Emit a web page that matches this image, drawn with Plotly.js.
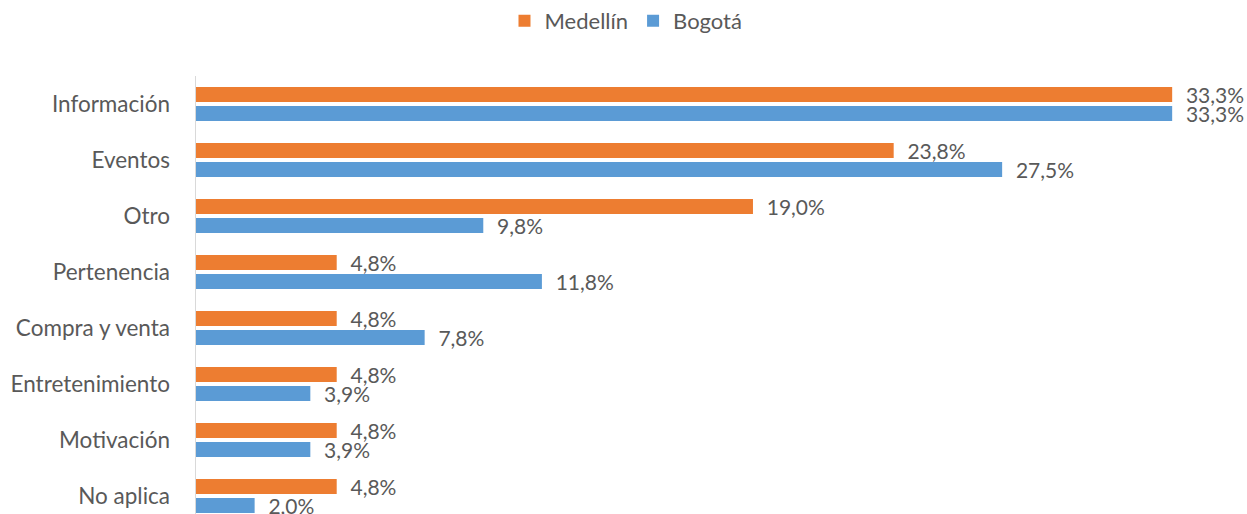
<!DOCTYPE html>
<html>
<head>
<meta charset="utf-8">
<script src="https://cdn.plot.ly/plotly-3.0.1.min.js"></script>
<style>html,body{margin:0;padding:0;background:#fff}#chart{width:1247px;height:514px}</style>
</head>
<body>
<div id="chart"></div>
<script>
var categories = ["Información", "Eventos", "Otro", "Pertenencia", "Compra y venta", "Entretenimiento", "Motivación", "No aplica"];
var medellin = [33.3, 23.8, 19.0, 4.8, 4.8, 4.8, 4.8, 4.8];
var bogota = [33.3, 27.5, 9.8, 11.8, 7.8, 3.9, 3.9, 2.0];
var seriesNames = ["Medellín", "Bogotá"];

var fontFam = "Lato, 'Open Sans', sans-serif";
var txtColor = "#595959";

function mk(name, vals, color) {
  return {
    type: "bar", orientation: "h", name: name,
    y: categories, x: vals,
    marker: {color: color},
    texttemplate: "\u00a0\u00a0%{x:.1f}%",
    textposition: "outside",
    constraintext: "none",
    cliponaxis: false,
    textfont: {family: fontFam, size: 21, color: txtColor},
    hoverinfo: "skip"
  };
}

var data = [mk(seriesNames[0], medellin, "#ED7D31"), mk(seriesNames[1], bogota, "#5B9BD5")];

var layout = {
  width: 1247, height: 514,
  margin: {l: 196, r: 25, t: 76, b: 0},
  paper_bgcolor: "#fff", plot_bgcolor: "#fff",
  separators: ",.",
  barmode: "group",
  bargap: 0.32,
  bargroupgap: 0.21,
  font: {family: fontFam, size: 22, color: txtColor},
  showlegend: true,
  legend: {orientation: "h", xref: "container", x: 0.502, xanchor: "center", yref: "container", y: 1.0, yanchor: "top",
           itemwidth: 30,
           font: {family: fontFam, size: 22, color: txtColor}, traceorder: "normal"},
  xaxis: {range: [0, 35], showgrid: false, zeroline: false, showticklabels: false, showline: false, fixedrange: true},
  yaxis: {type: "category", range: [7.32, -0.5], showgrid: false, zeroline: false,
          showline: true, linecolor: "#D9D9D9", linewidth: 1.5, ticks: "", ticklabelstandoff: 20,
          tickfont: {family: fontFam, size: 22.5, color: txtColor}}
};

Plotly.newPlot("chart", data, layout, {displayModeBar: false, staticPlot: true});
</script>
</body>
</html>
